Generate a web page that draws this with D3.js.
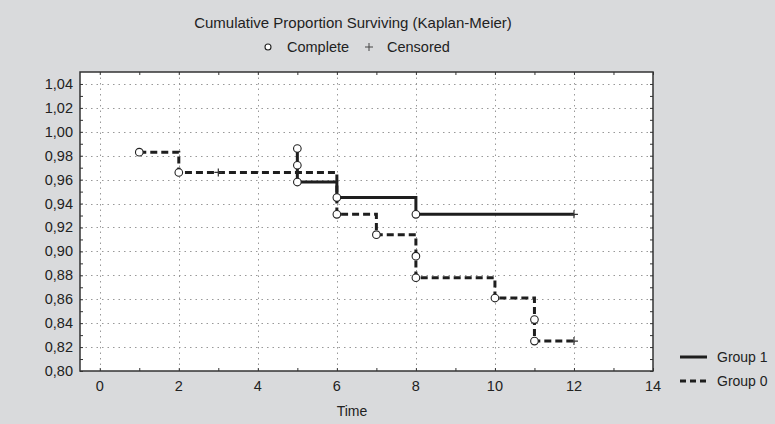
<!DOCTYPE html>
<html>
<head>
<meta charset="utf-8">
<script src="https://cdn.jsdelivr.net/npm/d3@7"></script>
<style>
  html, body { margin: 0; padding: 0; background: #d9dadc; }
  svg { display: block; }
  text { font-family: "Liberation Sans", Arial, sans-serif; fill: #222; }
</style>
</head>
<body>
<svg id="chart" width="775" height="424"></svg>
<script>
// ---- data ----
const xTicks = [0, 2, 4, 6, 8, 10, 12, 14];
const yTicks = [0.80, 0.82, 0.84, 0.86, 0.88, 0.90, 0.92, 0.94, 0.96, 0.98, 1.00, 1.02, 1.04];
const seriesNames = ["Group 1", "Group 0"];

const group1Times = [5, 5, 5, 6, 8];
const group1Surv  = [0.986, 0.972, 0.958, 0.945, 0.931];
const group1Censored = [12];
const group1End = 12;

const group0Times = [1, 2, 6, 7, 8, 8, 10, 11, 11];
const group0Surv  = [0.983, 0.966, 0.931, 0.914, 0.896, 0.878, 0.861, 0.843, 0.825];
const group0Censored = [3, 12];
const group0End = 12;

// ---- layout ----
const svg = d3.select("#chart");
const W = 775, H = 424;
const plot = { left: 80, top: 72, right: 653, bottom: 371 };

svg.append("rect").attr("width", W).attr("height", H).attr("fill", "#d9dadc");

const x = d3.scaleLinear().domain([-0.5, 14]).range([plot.left, plot.right]);
const y = d3.scaleLinear().domain([0.80, 1.05]).range([plot.bottom, plot.top]);

svg.append("rect")
  .attr("x", plot.left).attr("y", plot.top)
  .attr("width", plot.right - plot.left).attr("height", plot.bottom - plot.top)
  .attr("fill", "#fff");

// grid
const grid = svg.append("g").attr("stroke", "#999").attr("stroke-width", 1).attr("stroke-dasharray", "1.5,4");
grid.selectAll("line.h").data(yTicks.filter(v => v > 0.8)).enter().append("line")
  .attr("x1", plot.left).attr("x2", plot.right)
  .attr("y1", d => Math.round(y(d)) + 0.5).attr("y2", d => Math.round(y(d)) + 0.5);
grid.selectAll("line.v").data(xTicks.filter(v => v < 14)).enter().append("line")
  .attr("y1", plot.top).attr("y2", plot.bottom)
  .attr("x1", d => Math.round(x(d)) + 0.5).attr("x2", d => Math.round(x(d)) + 0.5);

// axes (ticks inward)
const xMinor = d3.range(0, 15, 1);
const yMinor = d3.range(0, 25).map(i => +(0.80 + i * 0.01).toFixed(2));
const tickLen = 3;
const axX = d3.axisBottom(x).tickValues(xMinor).tickSize(-tickLen).tickFormat("");
const axXt = d3.axisTop(x).tickValues(xMinor).tickSize(-tickLen).tickFormat("");
const axY = d3.axisLeft(y).tickValues(yMinor).tickSize(-tickLen).tickFormat("");
const axYr = d3.axisRight(y).tickValues(yMinor).tickSize(-tickLen).tickFormat("");
[[axX, `translate(0,${plot.bottom})`], [axXt, `translate(0,${plot.top})`],
 [axY, `translate(${plot.left},0)`], [axYr, `translate(${plot.right},0)`]].forEach(([a, t]) => {
  const g = svg.append("g").attr("transform", t).call(a);
  g.select(".domain").remove();
  g.selectAll("line").attr("stroke", "#333");
});

// labels
svg.append("g").selectAll("text").data(yTicks).enter().append("text")
  .attr("x", 73).attr("y", d => y(d) + 5)
  .attr("text-anchor", "end").attr("font-size", 14.5)
  .text(d => d3.format(".2f")(d).replace(".", ","));
svg.append("g").selectAll("text").data(xTicks).enter().append("text")
  .attr("x", d => x(d)).attr("y", 391)
  .attr("text-anchor", "middle").attr("font-size", 14.5)
  .text(d => d);
svg.append("text").attr("x", 352).attr("y", 416).attr("text-anchor", "middle")
  .attr("font-size", 14).text("Time");

// border
svg.append("rect")
  .attr("x", plot.left).attr("y", plot.top)
  .attr("width", plot.right - plot.left).attr("height", plot.bottom - plot.top)
  .attr("fill", "none").attr("stroke", "#333").attr("stroke-width", 1.5);

// step paths
function stepPoints(times, surv, end) {
  const pts = [[times[0], surv[0]]];
  for (let i = 1; i < times.length; i++) {
    pts.push([times[i], surv[i - 1]]);
    pts.push([times[i], surv[i]]);
  }
  pts.push([end, surv[surv.length - 1]]);
  return pts;
}
function survAt(times, surv, t) {
  let s = surv[0];
  for (let i = 0; i < times.length; i++) if (times[i] <= t) s = surv[i];
  return s;
}
const line = d3.line().x(d => x(d[0])).y(d => y(d[1]));

const groups = [
  { times: group1Times, surv: group1Surv, cens: group1Censored, end: group1End, dash: null },
  { times: group0Times, surv: group0Surv, cens: group0Censored, end: group0End, dash: "7,4" }
];

groups.slice().reverse().forEach(gd => {
  const g = svg.append("g");
  g.append("path").datum(stepPoints(gd.times, gd.surv, gd.end))
    .attr("d", line).attr("fill", "none").attr("stroke", "#1e1e1e")
    .attr("stroke-width", 3).attr("stroke-dasharray", gd.dash);
  g.selectAll("path.c").data(gd.cens).enter().append("path")
    .attr("d", d => {
      const cx = x(d), cy = y(survAt(gd.times, gd.surv, d));
      return `M${cx - 4},${cy}H${cx + 4}M${cx},${cy - 4}V${cy + 4}`;
    })
    .attr("stroke", "#333").attr("stroke-width", 1.2).attr("fill", "none");
  g.selectAll("circle").data(gd.times.map((t, i) => [t, gd.surv[i]])).enter().append("circle")
    .attr("cx", d => x(d[0])).attr("cy", d => y(d[1])).attr("r", 3.8)
    .attr("fill", "#fff").attr("stroke", "#222").attr("stroke-width", 1.1);
});

// title & marker legend
svg.append("text").attr("x", 353).attr("y", 28).attr("text-anchor", "middle")
  .attr("font-size", 15).text("Cumulative Proportion Surviving (Kaplan-Meier)");
svg.append("circle").attr("cx", 268).attr("cy", 47).attr("r", 3)
  .attr("fill", "#fff").attr("stroke", "#222").attr("stroke-width", 1.1);
svg.append("text").attr("x", 287).attr("y", 52).attr("font-size", 14.5).text("Complete");
svg.append("path").attr("d", "M365,47H373M369,43V51").attr("stroke", "#444").attr("stroke-width", 1);
svg.append("text").attr("x", 387).attr("y", 52).attr("font-size", 14.5).text("Censored");

// series legend
const leg = svg.append("g");
seriesNames.forEach((name, i) => {
  const ly = 357 + i * 24;
  leg.append("line").attr("x1", 680).attr("x2", 707).attr("y1", ly).attr("y2", ly)
    .attr("stroke", "#1e1e1e").attr("stroke-width", 3)
    .attr("stroke-dasharray", groups[i].dash ? "6,4" : null);
  leg.append("text").attr("x", 717).attr("y", ly + 5).attr("font-size", 14).text(name);
});
</script>
</body>
</html>
